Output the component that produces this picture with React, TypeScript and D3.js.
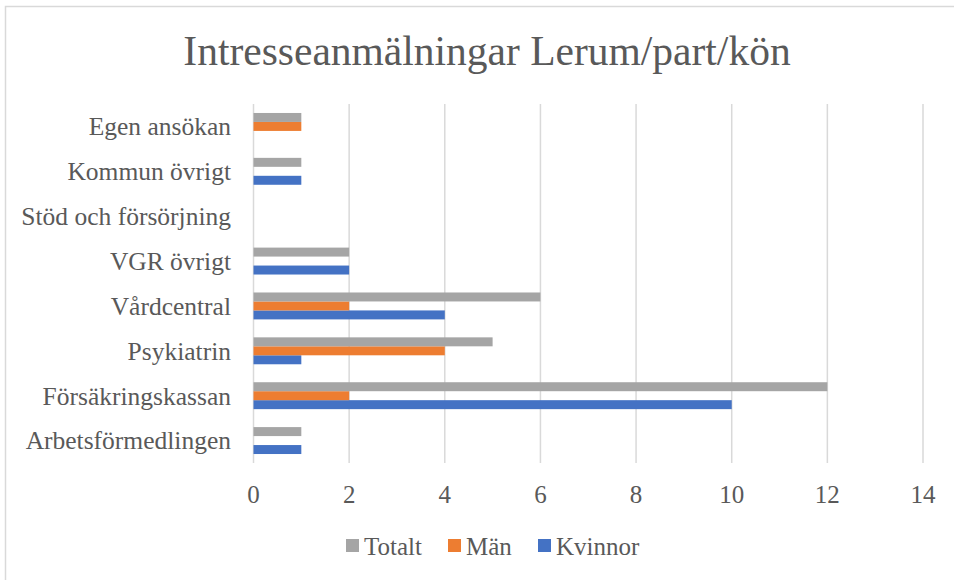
import React from "react";
import * as d3 from "d3";

const categories = [
  "Arbetsförmedlingen",
  "Försäkringskassan",
  "Psykiatrin",
  "Vårdcentral",
  "VGR övrigt",
  "Stöd och försörjning",
  "Kommun övrigt",
  "Egen ansökan",
];
const seriesNames = ["Kvinnor", "Män", "Totalt"];
const kvinnor = [1, 10, 1, 4, 2, 0, 1, 0];
const man = [0, 2, 4, 2, 0, 0, 0, 1];
const totalt = [1, 12, 5, 6, 2, 0, 1, 1];
const xTicks = [0, 2, 4, 6, 8, 10, 12, 14];
const colors = ["#4472C4", "#ED7D31", "#A5A5A5"];

const W = 954;
const H = 580;
const left = 253.5;
const right = 923;
const top = 104;
const bottom = 463;
const font = "'Liberation Serif', 'DejaVu Serif', serif";
const textColor = "#595959";

export default function App() {
  const values = [kvinnor, man, totalt];
  const x = d3.scaleLinear().domain([0, 14]).range([left, right]);
  const y = d3
    .scaleBand<string>()
    .domain([...categories].reverse())
    .range([top, bottom])
    .paddingInner(0.4)
    .paddingOuter(0.2);
  const inner = d3
    .scaleBand<string>()
    .domain(["Totalt", "Män", "Kvinnor"])
    .range([0, y.bandwidth()]);

  const legendItems = [
    { name: "Totalt", color: colors[2], sx: 346, tx: 364 },
    { name: "Män", color: colors[1], sx: 448, tx: 466 },
    { name: "Kvinnor", color: colors[0], sx: 538, tx: 556 },
  ];

  return (
    <svg
      width={W}
      height={H}
      style={{ position: "absolute", left: 0, top: 0, display: "block" }}
      fontFamily={font}
    >
      <rect x={0} y={0} width={W} height={H} fill="#fff" />
      <rect
        x={5.5}
        y={6.5}
        width={W + 10}
        height={H + 10}
        fill="none"
        stroke="#d9d9d9"
        strokeWidth={1.5}
      />
      <text x={487} y={65} textAnchor="middle" fontSize={41.5} fill={textColor}>
        Intresseanmälningar Lerum/part/kön
      </text>
      {xTicks.map((t) => (
        <line
          key={t}
          x1={x(t)}
          x2={x(t)}
          y1={top}
          y2={bottom}
          stroke="#d9d9d9"
          strokeWidth={1.5}
        />
      ))}
      {categories.map((c, i) =>
        seriesNames.map((s, j) => {
          const v = values[j][i];
          if (!v) return null;
          return (
            <rect
              key={c + s}
              x={x(0)}
              y={(y(c) as number) + (inner(s) as number)}
              width={x(v) - x(0)}
              height={inner.bandwidth()}
              fill={colors[j]}
            />
          );
        })
      )}
      {categories.map((c) => (
        <text
          key={c}
          x={231}
          y={(y(c) as number) + y.bandwidth() / 2}
          dy="0.35em"
          textAnchor="end"
          fontSize={25.5}
          fill={textColor}
        >
          {c}
        </text>
      ))}
      {xTicks.map((t) => (
        <text
          key={t}
          x={x(t)}
          y={494}
          dy="0.35em"
          textAnchor="middle"
          fontSize={25}
          fill={textColor}
        >
          {t}
        </text>
      ))}
      {legendItems.map((it) => (
        <g key={it.name}>
          <rect x={it.sx} y={539} width={13} height={13} fill={it.color} />
          <text x={it.tx} y={546} dy="0.35em" fontSize={25} fill={textColor}>
            {it.name}
          </text>
        </g>
      ))}
    </svg>
  );
}
